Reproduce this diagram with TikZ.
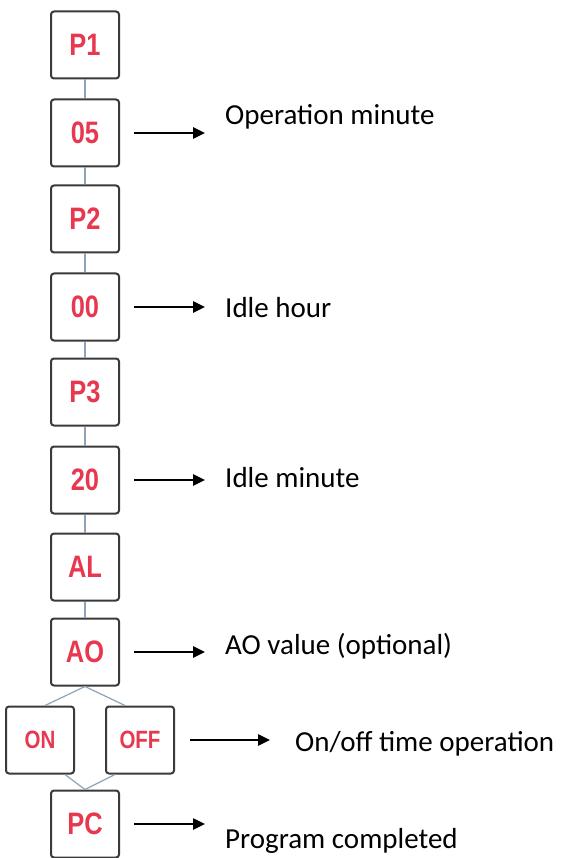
\documentclass[tikz,border=0pt]{standalone}
\usepackage{fontspec}
\setmainfont{Carlito}
\newfontfamily\segfont[FakeStretch=0.82]{Liberation Sans}
\usetikzlibrary{arrows.meta,calc}
\definecolor{segred}{HTML}{E8384F}
\definecolor{boxgray}{HTML}{3A3A3A}
\definecolor{linkblue}{HTML}{8FA3B8}
\begin{document}
\begin{tikzpicture}[x=1pt,y=-1pt,
  disp/.style={draw=boxgray,line width=2pt,rounded corners=3pt,fill=white,
    minimum width=68pt,minimum height=67pt,inner sep=0pt,text=segred,
    font=\segfont\bfseries\fontsize{31}{31}\selectfont},
  dispsmall/.style={disp,font=\segfont\bfseries\fontsize{25}{25}\selectfont},
  link/.style={draw=linkblue,line width=1.2pt},
  pointer/.style={draw=black,line width=2.5pt,-{Triangle[length=12pt,width=11pt]}},
  caption/.style={anchor=base west,inner sep=0pt,font=\fontsize{29}{29}\selectfont}]
\useasboundingbox (0,0) rectangle (563,858);
\fill[white] (0,0) rectangle (563,858);
% display boxes
\node[disp] (p1)  at (85,45)  {P1};
\node[disp] (b05) at (85,133) {05};
\node[disp] (p2)  at (85,219) {P2};
\node[disp] (b00) at (85,307) {00};
\node[disp] (p3)  at (85,392) {P3};
\node[disp] (b20) at (85,480) {20};
\node[disp] (al)  at (85,567) {AL};
\node[disp] (ao)  at (85,652) {AO};
\node[dispsmall] (on)  at (40,740)  {ON};
\node[dispsmall] (off) at (140,740) {OFF};
\node[disp] (pc)  at (85,824) {PC};
% links
\draw[link] (p1.south) -- (b05.north);
\draw[link] (b05.south) -- (p2.north);
\draw[link] (p2.south) -- (b00.north);
\draw[link] (b00.south) -- (p3.north);
\draw[link] (p3.south) -- (b20.north);
\draw[link] (b20.south) -- (al.north);
\draw[link] (al.south) -- (ao.north);
\draw[link] (ao.south) -- ([xshift=5pt]on.north);
\draw[link] (ao.south) -- ([xshift=-15pt]off.north);
\draw[link] ([xshift=25pt]on.south) -- (pc.north);
\draw[link] ([xshift=-25pt]off.south) -- (pc.north);
% captions
\node[caption] (c1) at (225,125) {Operation minute};
\node[caption] (c2) at (225,317) {Idle hour};
\node[caption] (c3) at (225,487) {Idle minute};
\node[caption] (c4) at (225,654) {AO value (optional)};
\node[caption] (c5) at (295,751) {On/off time operation};
\node[caption] (c6) at (225,848) {Program completed};
% pointers
\draw[pointer] ([xshift=14pt]b05.east) -- ($(b05.east -| c1.west)+(-20,0)$);
\draw[pointer] ([xshift=14pt]b00.east) -- ($(b00.east -| c2.west)+(-20,0)$);
\draw[pointer] ([xshift=14pt]b20.east) -- ($(b20.east -| c3.west)+(-20,0)$);
\draw[pointer] ([xshift=14pt]ao.east) -- ($(ao.east -| c4.west)+(-20,0)$);
\draw[pointer] ([xshift=15pt]off.east) -- ($(off.east -| c5.west)+(-25,0)$);
\draw[pointer] ([xshift=14pt]pc.east) -- ($(pc.east -| c6.west)+(-20,0)$);
\end{tikzpicture}
\end{document}
